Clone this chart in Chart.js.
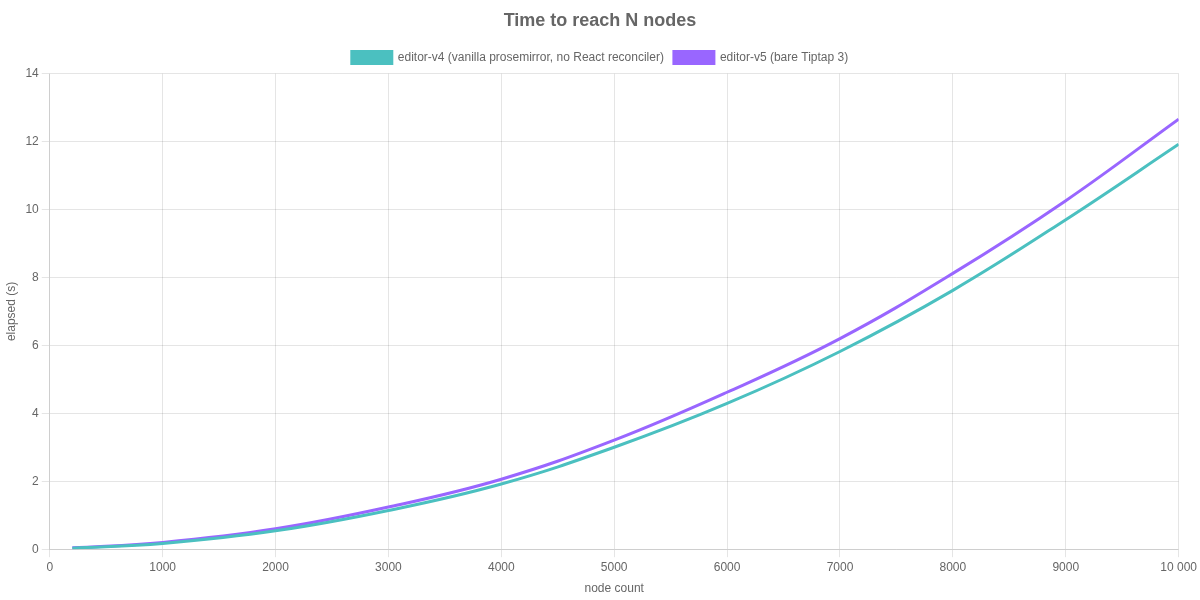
<!DOCTYPE html>
<html>
<head>
<meta charset="utf-8">
<script src="https://cdn.jsdelivr.net/npm/chart.js@4.4.1/dist/chart.umd.min.js"></script>
<style>
html,body{margin:0;padding:0;background:#fff;}
#wrap{width:1200px;height:600px;}
</style>
</head>
<body>
<div id="wrap"><canvas id="c" width="1200" height="600"></canvas></div>
<script>
const chartTitle = 'Time to reach N nodes';
const nodeCounts = [200, 1000, 2000, 3000, 4000, 5000, 6000, 7000, 8000, 9000, 10000];
const v4Label = 'editor-v4 (vanilla prosemirror, no React reconciler)';
const v4Elapsed = [0.03, 0.17, 0.54, 1.14, 1.92, 3.0, 4.29, 5.82, 7.62, 9.7, 11.92];
const v5Label = 'editor-v5 (bare Tiptap 3)';
const v5Elapsed = [0.04, 0.2, 0.6, 1.24, 2.06, 3.21, 4.62, 6.2, 8.12, 10.26, 12.66];
const xTitle = 'node count';
const yTitle = 'elapsed (s)';

function toPoints(xs, ys){ return xs.map((x,i)=>({x:x, y:ys[i]})); }
function fmt(v){
  const s = String(Math.round(v));
  if (s.length <= 4) return s;
  return s.replace(/\B(?=(\d{3})+(?!\d))/g, '\u00a0');
}

new Chart(document.getElementById('c'), {
  type: 'line',
  data: {
    datasets: [
      {label: v4Label, data: toPoints(nodeCounts, v4Elapsed), borderColor: 'rgb(75,192,192)', backgroundColor: 'rgb(75,192,192)', borderWidth: 3, pointRadius: 0, tension: 0.4},
      {label: v5Label, data: toPoints(nodeCounts, v5Elapsed), borderColor: 'rgb(153,102,255)', backgroundColor: 'rgb(153,102,255)', borderWidth: 3, pointRadius: 0, tension: 0.4}
    ]
  },
  options: {
    responsive: false,
    animation: false,
    plugins: {
      title: {display: true, text: chartTitle, font: {size: 18, weight: 'bold'}, color: '#666'},
      legend: {labels: {color: '#666'}},
      tooltip: {enabled: false}
    },
    scales: {
      x: {type: 'linear', min: 0, max: 10000, ticks: {stepSize: 1000, color: '#666', callback: (v)=>fmt(v)}, title: {display: true, text: xTitle, color: '#666'}},
      y: {min: 0, max: 14, ticks: {stepSize: 2, color: '#666'}, title: {display: true, text: yTitle, color: '#666'}}
    }
  }
});
</script>
</body>
</html>
